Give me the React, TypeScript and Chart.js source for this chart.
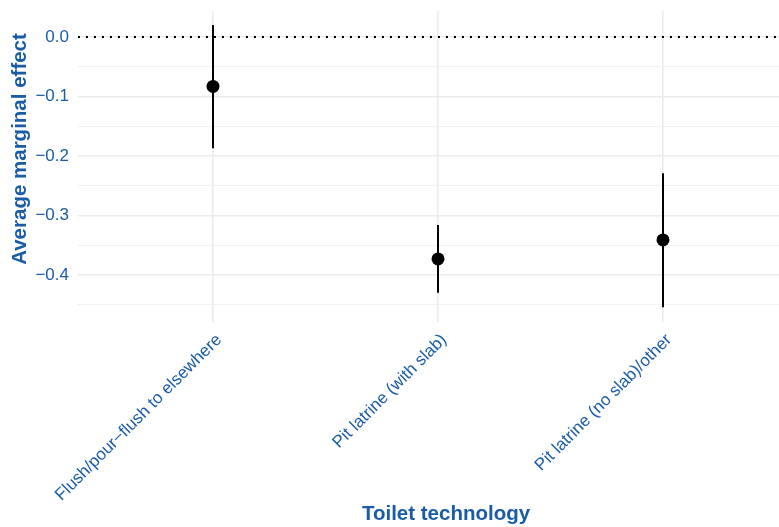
import React, { useEffect, useRef } from "react";
import { Chart, registerables } from "chart.js";

Chart.register(...registerables);

// Toilet technology categories and their estimated average marginal effects
const categories = [
  "Flush/pour\u2212flush to elsewhere",
  "Pit latrine (with slab)",
  "Pit latrine (no slab)/other",
];
const estimates = [-0.083, -0.373, -0.341];
const lowerCI = [-0.187, -0.43, -0.454];
const upperCI = [0.02, -0.316, -0.229];

// Y axis gridline positions (major every 0.1, minor halfway)
const yTickValues = [-0.45, -0.4, -0.35, -0.3, -0.25, -0.2, -0.15, -0.1, -0.05, 0];
const yMin = -0.479;
const yMax = 0.0437;

const yAxisTitle = "Average marginal effect";
const xAxisTitle = "Toilet technology";

const BLUE = "#1a5da6";
const FONT = "'Liberation Sans', Arial, Helvetica, sans-serif";

const isMajor = (v: number) => Math.abs(Math.round(v * 10) - v * 10) < 1e-6;
const fmt = (v: number) => {
  const s = v.toFixed(1);
  return s === "-0.0" ? "0.0" : s.replace("-", "\u2212");
};

// Draws the dotted zero reference line and the confidence interval whiskers
const intervalPlugin = {
  id: "intervals",
  beforeDatasetsDraw(chart: any) {
    const { ctx, chartArea, scales } = chart;
    const xs = scales.x;
    const ys = scales.y;
    ctx.save();
    // zero reference line
    ctx.beginPath();
    ctx.setLineDash([2, 6]);
    ctx.lineWidth = 2;
    ctx.strokeStyle = "#000";
    const y0 = ys.getPixelForValue(0);
    ctx.moveTo(chartArea.left, y0);
    ctx.lineTo(chartArea.right, y0);
    ctx.stroke();
    ctx.setLineDash([]);
    // whiskers
    ctx.lineWidth = 2;
    for (let i = 0; i < categories.length; i++) {
      const x = xs.getPixelForValue(i + 1);
      ctx.beginPath();
      ctx.moveTo(x, ys.getPixelForValue(lowerCI[i]));
      ctx.lineTo(x, ys.getPixelForValue(upperCI[i]));
      ctx.stroke();
    }
    ctx.restore();
  },
};

// Vertical y-axis title, centred on the visible plot height
const yTitlePlugin = {
  id: "yTitle",
  afterDraw(chart: any) {
    const { ctx, chartArea } = chart;
    ctx.save();
    ctx.translate(20, chartArea.top + 138);
    ctx.rotate(-Math.PI / 2);
    ctx.font = `bold 20.5px ${FONT}`;
    ctx.fillStyle = BLUE;
    ctx.textAlign = "center";
    ctx.textBaseline = "middle";
    ctx.fillText(yAxisTitle, 0, 0);
    ctx.restore();
  },
};

export default function App() {
  const ref = useRef<HTMLCanvasElement | null>(null);

  useEffect(() => {
    document.body.style.margin = "0";
    const canvas = ref.current;
    if (!canvas) return;
    const chart = new Chart(canvas, {
      type: "scatter",
      data: {
        datasets: [
          {
            data: estimates.map((v, i) => ({ x: i + 1, y: v })),
            backgroundColor: "#000",
            borderColor: "#000",
            pointRadius: 6.5,
            pointHoverRadius: 6.5,
            borderWidth: 0,
          },
        ],
      },
      options: {
        responsive: false,
        animation: false,
        events: [],
        layout: { padding: { top: 11, right: 16, left: 0, bottom: 0 } },
        plugins: {
          legend: { display: false },
          tooltip: { enabled: false },
        },
        scales: {
          x: {
            type: "linear",
            min: 0.4,
            max: 0.4 + 736 / 225,
            afterBuildTicks: (scale: any) => {
              scale.ticks = categories.map((_, i) => ({ value: i + 1 }));
            },
            afterFit: (scale: any) => {
              scale.height = 205;
              scale.paddingLeft = 0;
              scale.paddingRight = 0;
            },
            grid: {
              color: "#ebebeb",
              lineWidth: 1.6,
              drawTicks: false,
            },
            border: { display: false },
            ticks: {
              autoSkip: false,
              maxRotation: 45,
              minRotation: 45,
              padding: 8,
              labelOffset: 6,
              color: BLUE,
              font: { family: FONT, size: 17 },
              callback: (v: any) => categories[Math.round(v) - 1] ?? "",
            },
            title: {
              display: true,
              text: xAxisTitle,
              color: BLUE,
              font: { family: FONT, size: 20.5, weight: "bold" },
              padding: { top: 0, bottom: 0 },
            },
          },
          y: {
            type: "linear",
            min: yMin,
            max: yMax,
            afterBuildTicks: (scale: any) => {
              scale.ticks = yTickValues.map((v) => ({ value: v }));
            },
            afterFit: (scale: any) => {
              scale.width = 78;
              scale.paddingTop = 0;
              scale.paddingBottom = 0;
            },
            grid: {
              color: (c: any) => (isMajor(c.tick.value) ? "#ebebeb" : "#f1f1f1"),
              lineWidth: (c: any) => (isMajor(c.tick.value) ? 1.6 : 1),
              drawTicks: false,
            },
            border: { display: false },
            ticks: {
              padding: 9,
              color: BLUE,
              font: { family: FONT, size: 17 },
              callback: (v: any) => (isMajor(Number(v)) ? fmt(Number(v)) : ""),
            },
            title: { display: false },
          },
        },
      },
      plugins: [intervalPlugin, yTitlePlugin],
    } as any);
    return () => chart.destroy();
  }, []);

  return (
    <div
      style={{
        position: "fixed",
        left: 0,
        top: 0,
        width: 779,
        height: 527,
        overflow: "hidden",
        background: "#fff",
      }}
    >
      <canvas ref={ref} width={830} height={527} />
    </div>
  );
}
